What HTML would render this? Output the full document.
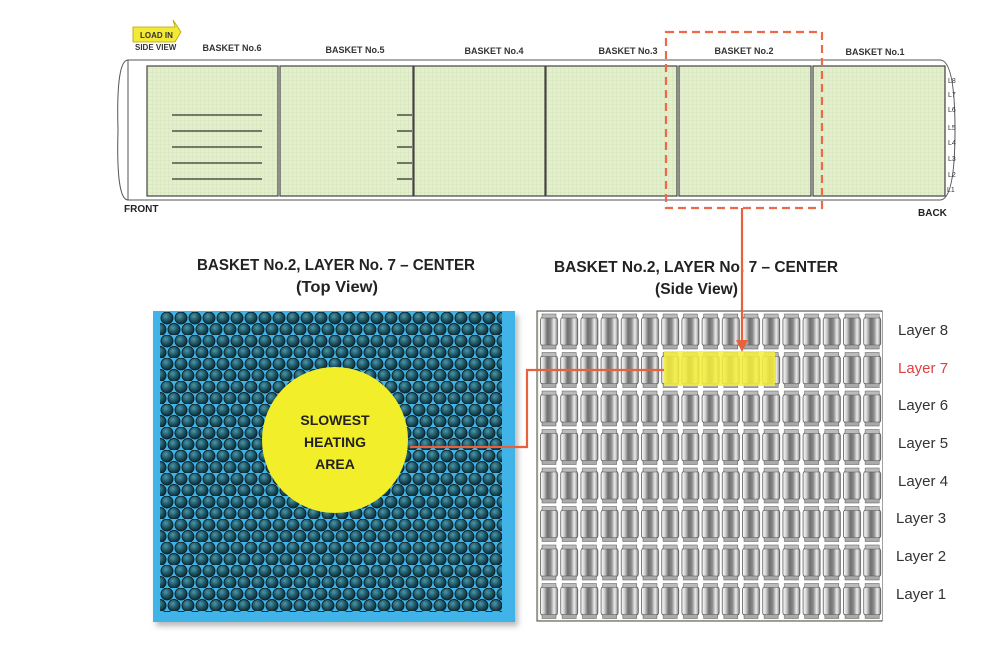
<!DOCTYPE html>
<html><head><meta charset="utf-8"><style>
html,body{margin:0;padding:0;background:#fff;}
svg{display:block;font-family:"Liberation Sans",Arial,sans-serif;}
</style></head><body>
<svg width="1006" height="648" viewBox="0 0 1006 648" xmlns="http://www.w3.org/2000/svg">
<defs>
<pattern id="grid" width="4" height="4" patternUnits="userSpaceOnUse">
<rect width="4" height="4" fill="#e4f0cd"/>
<path d="M0 0H4M0 0V4" stroke="#d2e0b8" stroke-width="0.8"/>
</pattern>
<radialGradient id="ball" cx="0.4" cy="0.35" r="0.7">
<stop offset="0" stop-color="#4b97aa"/><stop offset="0.55" stop-color="#1d5462"/><stop offset="1" stop-color="#0b2229"/>
</radialGradient>
<pattern id="balls" width="14" height="23" patternUnits="userSpaceOnUse" x="160" y="312">
<circle cx="7" cy="6" r="6" fill="url(#ball)" stroke="#0a1f26" stroke-width="0.9"/>
<circle cx="14" cy="17.5" r="6" fill="url(#ball)" stroke="#0a1f26" stroke-width="0.9"/>
<circle cx="0" cy="17.5" r="6" fill="url(#ball)" stroke="#0a1f26" stroke-width="0.9"/>
</pattern>
<linearGradient id="can" x1="0" x2="1">
<stop offset="0" stop-color="#fff"/><stop offset="0.2" stop-color="#cfcfcf"/><stop offset="0.4" stop-color="#6e6e6e"/><stop offset="0.6" stop-color="#8a8a8a"/><stop offset="0.8" stop-color="#ededed"/><stop offset="1" stop-color="#8a8a8a"/>
</linearGradient>
<pattern id="cans" width="20.2" height="38.5" patternUnits="userSpaceOnUse" x="539" y="312">
<rect width="20.2" height="38.5" fill="#fff"/>
<rect x="1.5" y="5" width="17" height="29" rx="3" fill="url(#can)" stroke="#444" stroke-width="0.7"/>
<rect x="3" y="2" width="14" height="4" fill="#bbb" stroke="#555" stroke-width="0.5"/>
<rect x="3" y="33" width="14" height="4" fill="#aaa" stroke="#555" stroke-width="0.5"/>
</pattern>
<filter id="sh"><feDropShadow dx="3" dy="4" stdDeviation="3" flood-color="#888" flood-opacity="0.6"/></filter>
</defs>

<path d="M128 60 Q116 60 118 130 Q116 200 128 200" fill="none" stroke="#555" stroke-width="1"/>
<path d="M128 60 H940 Q955 60 955 130 Q955 200 940 200 H128" fill="none" stroke="#555" stroke-width="1"/>
<line x1="128" y1="60" x2="128" y2="200" stroke="#555"/>
<g stroke="#444" stroke-width="1.2" fill="url(#grid)">
<rect x="147" y="66" width="131" height="130"/>
<rect x="280" y="66" width="133" height="130"/>
<rect x="414" y="66" width="131" height="130"/>
<rect x="546" y="66" width="131" height="130"/>
<rect x="679" y="66" width="132" height="130"/>
<rect x="813" y="66" width="132" height="130"/>
</g>
<g stroke="#333" stroke-width="1.3">
<line x1="172" y1="115" x2="262" y2="115"/><line x1="172" y1="131" x2="262" y2="131"/>
<line x1="172" y1="147" x2="262" y2="147"/><line x1="172" y1="163" x2="262" y2="163"/>
<line x1="172" y1="179" x2="262" y2="179"/>
<line x1="397" y1="115" x2="412" y2="115"/><line x1="397" y1="131" x2="412" y2="131"/>
<line x1="397" y1="147" x2="412" y2="147"/><line x1="397" y1="163" x2="412" y2="163"/>
<line x1="397" y1="179" x2="412" y2="179"/>
</g>
<g font-size="9" font-weight="bold" fill="#333" text-anchor="middle">
<text x="232" y="51">BASKET No.6</text><text x="355" y="53">BASKET No.5</text>
<text x="494" y="54">BASKET No.4</text><text x="628" y="54">BASKET No.3</text>
<text x="744" y="54">BASKET No.2</text><text x="875" y="55">BASKET No.1</text>
</g>
<g font-size="7" fill="#333">
<text x="948" y="83">L8</text><text x="948" y="97">L7</text><text x="948" y="112">L6</text>
<text x="948" y="130">L5</text><text x="948" y="145">L4</text><text x="948" y="161">L3</text>
<text x="948" y="177">L2</text><text x="947" y="192">L1</text>
</g>
<text x="124" y="212" font-size="10" font-weight="bold" fill="#222">FRONT</text>
<text x="918" y="216" font-size="10" font-weight="bold" fill="#222">BACK</text>
<path d="M133 27 H175 L173 20 L181 32 L175 42 H133 Z" fill="#f3ea35" stroke="#b8a000" stroke-width="0.8"/>
<text x="140" y="38" font-size="8" font-weight="bold" fill="#333">LOAD IN</text>
<text x="135" y="50" font-size="8" font-weight="bold" fill="#333">SIDE VIEW</text>
<rect x="666" y="32" width="156" height="176" fill="none" stroke="#ec6a45" stroke-width="2.2" stroke-dasharray="8,5"/>

<g font-size="16" font-weight="bold" fill="#222">
<text x="197" y="270" textLength="278" lengthAdjust="spacingAndGlyphs">BASKET No.2, LAYER No. 7 – CENTER</text>
<text x="296" y="292" textLength="82" lengthAdjust="spacingAndGlyphs">(Top View)</text>
<text x="554" y="272" textLength="284" lengthAdjust="spacingAndGlyphs">BASKET No.2, LAYER No.  7 – CENTER</text>
<text x="655" y="294" textLength="83" lengthAdjust="spacingAndGlyphs">(Side View)</text>
</g>

<rect x="153" y="311" width="362" height="311" fill="#3fb4e8" filter="url(#sh)"/>
<rect x="160" y="312" width="342" height="300" fill="url(#balls)"/>
<circle cx="335" cy="440" r="73" fill="#f3ee2a"/>
<g font-size="14" font-weight="bold" fill="#222" text-anchor="middle">
<text x="335" y="425">SLOWEST</text><text x="335" y="447">HEATING</text><text x="335" y="469">AREA</text>
</g>

<rect x="537" y="311" width="345" height="310" fill="#eef4e0" stroke="#444" stroke-width="1"/>
<rect x="539" y="312" width="343" height="308" fill="url(#cans)"/>
<rect x="664" y="351" width="111" height="35" fill="#f4f03a" opacity="0.85"/>
<g font-size="15" fill="#333">
<text x="898" y="335">Layer 8</text>
<text x="898" y="373" fill="#e04040">Layer 7</text>
<text x="898" y="410">Layer 6</text><text x="898" y="448">Layer 5</text>
<text x="898" y="486">Layer 4</text><text x="896" y="523">Layer 3</text>
<text x="896" y="561">Layer 2</text><text x="896" y="599">Layer 1</text>
</g>

<g stroke="#e8613a" stroke-width="2.2" fill="none">
<line x1="742" y1="208" x2="742" y2="343"/>
<polyline points="410,447 527,447 527,370 664,370"/>
</g>
<path d="M736 340 L748 340 L742 352 Z" fill="#e8613a"/>
</svg>
</body></html>
